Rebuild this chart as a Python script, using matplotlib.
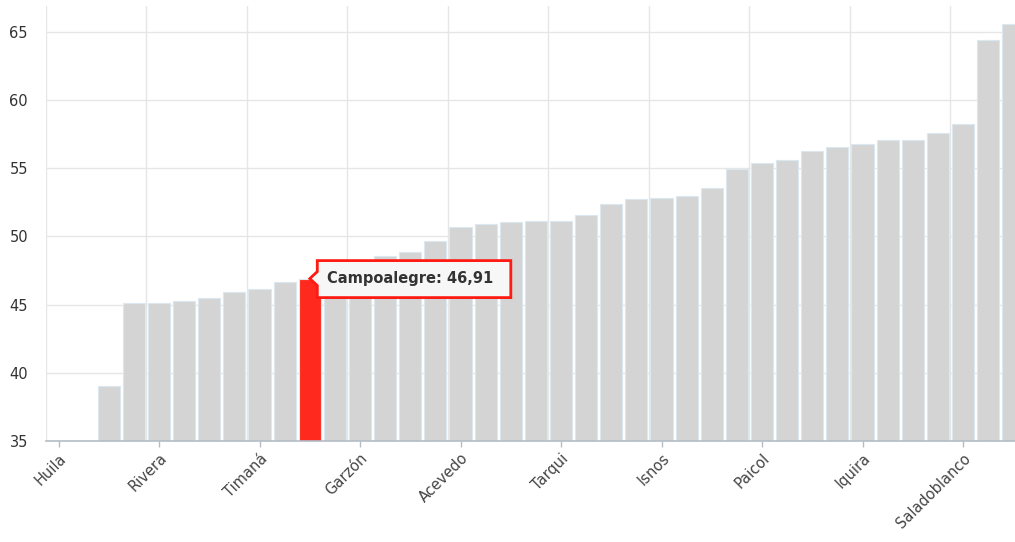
import numpy as np
import matplotlib
matplotlib.use("Agg")
from matplotlib import pyplot as plt
from matplotlib import transforms as mtransforms
from matplotlib.patches import Polygon

# values (nan = no bar visible above 35)
values = [np.nan, np.nan, 39.0, 45.15, 45.15, 45.27, 45.49, 45.95, 46.17, 46.64,
          46.91, 47.4, 47.9, 48.6, 48.84, 49.65, 50.68, 50.92, 51.03, 51.14,
          51.14, 51.58, 52.41, 52.73, 52.85, 52.97, 53.54, 54.96, 55.37, 55.62,
          56.30, 56.54, 56.77, 57.11, 57.11, 57.57, 58.28, 64.40, 65.55]
shown_labels = ["Huila", "Rivera", "Timaná", "Garzón", "Acevedo",
                "Tarqui", "Isnos", "Paicol", "Iquira", "Saladoblanco"]
label_step = 4
highlight = "Campoalegre"
highlight_idx = 10
y_ticks = [35, 40, 45, 50, 55, 60, 65]

plt.rcParams['font.family'] = ['DejaVu Sans']

fig = plt.figure(figsize=(10.15, 5.42), dpi=100)
ax = fig.add_axes([46 / 1015, 1 - 441 / 542, 1 - 46 / 1015, 435 / 542])

vals = np.array(values, dtype=float)
x = np.arange(len(vals))
ok = np.isfinite(vals)
colors = np.array(['#d4d4d4'] * len(vals), dtype=object)
colors[highlight_idx] = '#ff2a1d'
ax.bar(x[ok], vals[ok], width=0.88, color=list(colors[ok]), edgecolor='#dbe8f1',
       linewidth=0.8, zorder=2)

ax.set_ylim(35, 66.9)
ax.set_xlim(-0.5, 38.07)

# grid
ax.set_yticks(y_ticks)
ax.yaxis.grid(True, color='#e6e6e6', linewidth=1, zorder=0)
ax.set_xticks(np.arange(0, len(vals), label_step))
ax.set_xticklabels(shown_labels, rotation=45, ha='right', rotation_mode='anchor')
ax.set_xticks(np.arange(-0.5, len(vals), label_step), minor=True)
ax.xaxis.grid(True, which='minor', color='#e6e6e6', linewidth=1, zorder=0)
ax.set_axisbelow(True)

for s in ['top', 'right', 'left']:
    ax.spines[s].set_visible(False)
ax.spines['bottom'].set_color('#b4bcc6')
ax.spines['bottom'].set_linewidth(1.2)

ax.tick_params(axis='y', length=0, pad=13, labelsize=10.5, labelcolor='#333333')
ax.tick_params(axis='x', which='major', length=4, width=1, color='#b4bcc6',
               pad=3, labelsize=10.5, labelcolor='#444444')
ax.tick_params(axis='x', which='minor', length=0)

# tooltip callout anchored at bar top
tip = mtransforms.ScaledTranslation(highlight_idx, vals[highlight_idx], ax.transData)
trans = fig.dpi_scale_trans + tip
pts = np.array([(0, 0), (7.5, 7), (7.5, 18), (201, 18), (201, -19),
                (7.5, -19), (7.5, -7), (0, 0)]) / 100.0
shadow = Polygon(pts + np.array([0.015, -0.015]), closed=True, transform=trans,
                 facecolor='#000000', alpha=0.08, edgecolor='none', zorder=4)
ax.add_patch(shadow)
box = Polygon(pts, closed=True, transform=trans, facecolor='#f7f7f7',
              edgecolor='#ff1a12', linewidth=2, zorder=5, clip_on=False)
ax.add_patch(box)
ax.text(17 / 100, 0, f"{highlight}: {vals[highlight_idx]:.2f}".replace('.', ','),
        transform=trans, ha='left', va='center',
        fontsize=10.5, fontweight='bold', color='#333333', zorder=6)

fig.savefig("out.png", dpi=100)
